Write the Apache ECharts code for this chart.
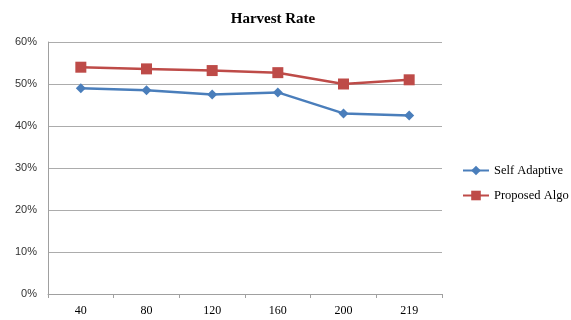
<!DOCTYPE html>
<html><head><meta charset="utf-8">
<script src="https://cdn.jsdelivr.net/npm/echarts@6/dist/echarts.min.js"></script>
<style>html,body{margin:0;padding:0;background:#fff}#c{width:571px;height:320px}</style>
</head><body><div id="c"></div>
<script>
const categories = ['40','80','120','160','200','219'];
const selfAdaptive = [49.0, 48.5, 47.5, 48.0, 43.0, 42.5];
const proposedAlgo = [54.0, 53.6, 53.2, 52.7, 50.0, 51.0];
const yTicks = [0, 10, 20, 30, 40, 50, 60];

const chart = echarts.init(document.getElementById('c'));
chart.setOption({
  animation: false,
  backgroundColor: '#fff',
  title: {
    text: 'Harvest Rate', left: 268, top: 7, textAlign: 'center',
    textStyle: {fontFamily: 'Liberation Serif', fontSize: 15, fontWeight: 'bold', color: '#000'}
  },
  legend: {
    orient: 'vertical', left: 462, top: 164, padding: 0, itemGap: 12, itemWidth: 26, itemHeight: 12,
    textStyle: {fontFamily: 'Liberation Serif', fontSize: 12.5, color: '#000'},
    data: ['Self Adaptive', 'Proposed Algo']
  },
  grid: {left: 48, right: 129, top: 42, bottom: 26},
  xAxis: {
    type: 'category', data: categories, boundaryGap: true,
    axisLine: {lineStyle: {color: '#a0a0a0'}},
    axisTick: {show: true, length: 4, lineStyle: {color: '#a0a0a0'}},
    axisLabel: {fontFamily: 'Liberation Serif', fontSize: 12, color: '#000', margin: 11}
  },
  yAxis: {
    type: 'value', min: 0, max: 60, interval: 10,
    axisLine: {show: true, lineStyle: {color: '#a0a0a0'}},
    axisTick: {show: false},
    splitLine: {lineStyle: {color: '#acacac', width: 1}},
    axisLabel: {fontFamily: 'Liberation Sans', fontSize: 11, color: '#333', margin: 11,
      formatter: v => yTicks.includes(v) ? v + '%' : ''}
  },
  series: [
    {name: 'Self Adaptive', type: 'line', data: selfAdaptive, symbol: 'diamond', symbolSize: 10,
     lineStyle: {color: '#4a7ebb', width: 2.5}, itemStyle: {color: '#4a7ebb'}},
    {name: 'Proposed Algo', type: 'line', data: proposedAlgo, symbol: 'rect', symbolSize: 11,
     lineStyle: {color: '#be4b48', width: 2.5}, itemStyle: {color: '#be4b48'}}
  ]
});
</script></body></html>
